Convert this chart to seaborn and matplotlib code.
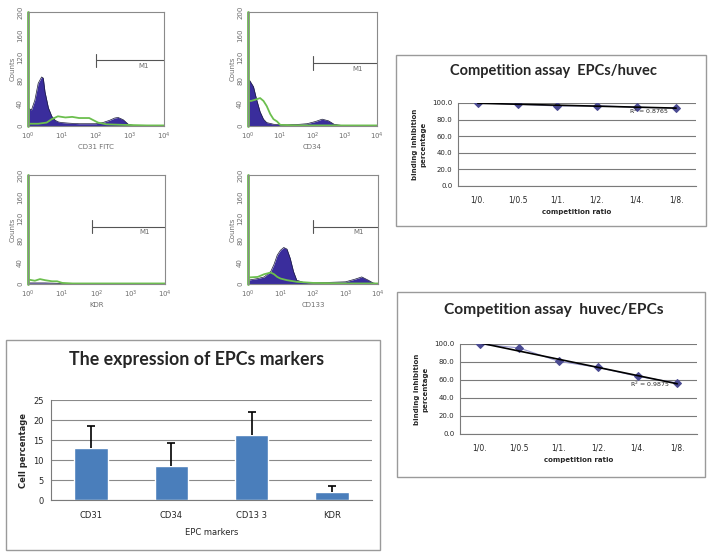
import numpy as np
import matplotlib
matplotlib.use("Agg")
import matplotlib.pyplot as plt
import seaborn as sns
from matplotlib.patches import Rectangle

# ---- flow cytometry histograms: log10 fluorescence position and counts ----
cd31_fill_logx = [0.0, 0.1, 0.2, 0.3, 0.4, 0.45, 0.5, 0.6, 0.7, 0.8, 0.9, 1.0, 1.2, 1.5,
                  1.8, 2.0, 2.2, 2.4, 2.55, 2.65, 2.8, 2.95, 3.1, 4.0]
cd31_fill = [32, 28, 45, 75, 86, 84, 60, 32, 17, 10, 7, 6, 5, 4, 4, 4, 6, 10, 14, 15, 11, 3, 1, 0]
cd31_line_logx = [0.02, 0.3, 0.55, 0.7, 0.88, 1.1, 1.3, 1.5, 1.8, 2.06, 2.3, 2.8, 3.5, 4.0]
cd31_line = [4, 4, 6, 12, 17, 15, 16, 14, 14, 6, 3, 2, 1, 1]

cd34_fill_logx = [0.0, 0.05, 0.17, 0.27, 0.375, 0.48, 0.58, 0.8, 1.2, 1.6, 1.83, 2.1,
                  2.3, 2.5, 2.67, 2.9, 4.0]
cd34_fill = [81, 80, 69, 46, 25, 12, 6, 3, 2, 3, 4, 8, 12, 9, 3, 1, 0]
cd34_line_logx = [0.02, 0.1, 0.22, 0.375, 0.48, 0.58, 0.69, 0.79, 0.9, 1.0, 1.5, 2.5, 4.0]
cd34_line = [44, 44, 46, 49, 44, 35, 21, 12, 8, 2, 1, 1, 1]

kdr_fill_logx = [0.0, 0.5, 1.0, 2.0, 4.0]
kdr_fill = [2, 2, 1, 1, 0]
kdr_line_logx = [0.02, 0.2, 0.35, 0.5, 0.7, 0.85, 1.0, 1.3, 2.0, 4.0]
kdr_line = [8, 6, 9, 7, 5, 5, 2, 1, 1, 1]

cd133_fill_logx = [0.0, 0.3, 0.5, 0.7, 0.8, 0.9, 1.0, 1.1, 1.2, 1.3, 1.4, 1.5, 1.7, 2.0,
                   2.5, 3.0, 3.3, 3.5, 3.7, 3.85, 4.0]
cd133_fill = [7, 10, 13, 23, 36, 53, 62, 67, 64, 47, 23, 7, 3, 2, 3, 4, 9, 13, 7, 2, 0]
cd133_line_logx = [0.02, 0.3, 0.5, 0.7, 0.8, 0.9, 1.0, 1.2, 1.5, 2.0, 3.0, 4.0]
cd133_line = [12, 13, 18, 21, 18, 13, 10, 7, 4, 2, 1, 1]

hist_labels = ["CD31 FITC", "CD34", "KDR", "CD133"]
m1_start_logx = [2.0, 2.0, 1.88, 2.0]
m1_level = [115, 110, 105, 105]

# ---- competition assays ----
ratios = ["1/0.", "1/0.5", "1/1.", "1/2.", "1/4.", "1/8."]
epc_huvec = [100.0, 98.6, 96.4, 96.8, 94.8, 94.0]
huvec_epc = [100.0, 95.6, 80.7, 74.0, 64.0, 56.7]
r2_labels = ["R$^2$ = 0.8765", "R$^2$ = 0.9875"]

# ---- marker expression ----
markers = ["CD31", "CD34", "CD13 3", "KDR"]
cell_pct = [13.1, 8.4, 16.3, 2.0]
cell_err = [5.4, 5.9, 5.7, 1.6]

W, H = 708, 553
sns.set_style("white")
fig = plt.figure(figsize=(W / 100, H / 100), dpi=100)


def rect(l, t, r, b):
    return [l / W, 1 - b / H, (r - l) / W, (b - t) / H]


def box(l, t, r, b):
    fig.add_artist(Rectangle((l / W, 1 - b / H), (r - l) / W, (b - t) / H,
                             transform=fig.transFigure, fill=False,
                             ec="#9a9a9a", lw=1.0))


# flow histograms
hist_rects = [(28, 12, 164, 126), (248, 12, 377, 126), (28, 175, 165, 284), (248, 175, 378, 284)]
fills = [(cd31_fill_logx, cd31_fill), (cd34_fill_logx, cd34_fill),
         (kdr_fill_logx, kdr_fill), (cd133_fill_logx, cd133_fill)]
lines = [(cd31_line_logx, cd31_line), (cd34_line_logx, cd34_line),
         (kdr_line_logx, kdr_line), (cd133_line_logx, cd133_line)]
purple = "#3a2d9c"
green = "#6cbf4e"
grey = "#6e6e6e"

for i in range(4):
    ax = fig.add_axes(rect(*hist_rects[i]))
    fx = 10 ** np.array(fills[i][0])
    ax.fill_between(fx, fills[i][1], color=purple, lw=0)
    sns.lineplot(x=fx, y=fills[i][1], ax=ax, color="#1a1a3a", lw=0.5)
    gx = 10 ** np.array(lines[i][0])
    sns.lineplot(x=gx, y=lines[i][1], ax=ax, color=green, lw=1.3)
    ax.axvline(1.0, color=green, lw=2.0, clip_on=False)
    ax.set_xscale("log")
    ax.set_xlim(1, 1e4)
    ax.set_ylim(0, 200)
    ax.set_xticks([1, 10, 100, 1000, 10000])
    ax.set_xticklabels(["10$^0$", "10$^1$", "10$^2$", "10$^3$", "10$^4$"])
    ax.set_yticks([0, 40, 80, 120, 160, 200])
    ax.set_yticklabels(["0", "40", "80", "120", "160", "200"], rotation=90, va="center")
    ax.tick_params(labelsize=5, colors=grey, length=2, width=0.6, pad=1.5)
    ax.tick_params(which="minor", length=1.2, width=0.4, colors=grey)
    for sp in ax.spines.values():
        sp.set_color("#8a8a8a")
        sp.set_linewidth(0.8)
    ax.set_xlabel(hist_labels[i], fontsize=5, color=grey, labelpad=1)
    ax.set_ylabel("Counts", fontsize=5, color=grey, labelpad=1)
    xs = 10 ** m1_start_logx[i]
    ax.plot([xs, 1e4], [m1_level[i], m1_level[i]], color="#555555", lw=0.8)
    ax.plot([xs, xs], [m1_level[i] - 12, m1_level[i] + 12], color="#555555", lw=0.8)
    ax.text(10 ** 3.25, m1_level[i] - 10, "M1", fontsize=5, color=grey, va="center")


# competition assay charts
def comp_chart(r, vals, title, title_xy, title_size, r2, r2_xy):
    ax = fig.add_axes(rect(*r))
    idx = np.arange(len(ratios))
    sns.lineplot(x=idx, y=vals, ax=ax, color="#9a9ad0", lw=0.8, marker="D",
                 markersize=4, markerfacecolor="#4b4b92", markeredgecolor="#4b4b92")
    sns.regplot(x=idx, y=vals, ax=ax, ci=None, scatter=False, truncate=True,
                line_kws=dict(color="black", lw=1.2))
    ax.set_xlim(-0.5, 5.5)
    ax.set_ylim(0, 100)
    ax.set_yticks([0, 20, 40, 60, 80, 100])
    ax.set_yticklabels(["0.0", "20.0", "40.0", "60.0", "80.0", "100.0"])
    ax.set_xticks(idx)
    ax.set_xticklabels(ratios)
    ax.set_xticks(np.arange(-0.5, 6, 1), minor=True)
    ax.yaxis.grid(True, color="#7a7a7a", lw=0.8)
    ax.set_axisbelow(True)
    ax.tick_params(axis="x", which="major", length=0, labelsize=5.5, pad=7)
    ax.tick_params(axis="x", which="minor", length=3, width=0.7, color="#7a7a7a")
    ax.tick_params(axis="y", labelsize=5, length=3, width=0.7, color="#7a7a7a", pad=1)
    for s in ["top", "right"]:
        ax.spines[s].set_visible(False)
    for s in ["left", "bottom"]:
        ax.spines[s].set_color("#7a7a7a")
        ax.spines[s].set_linewidth(0.8)
    ax.set_xlabel("competition ratio", fontsize=5, fontweight="bold", labelpad=3)
    ax.set_ylabel("binding inhibition\npercentage", fontsize=5, fontweight="bold",
                  labelpad=4, linespacing=1.6)
    ax.text(r2_xy[0], r2_xy[1], r2, fontsize=4.5, ha="center", va="center")
    fig.text(title_xy[0] / W, 1 - title_xy[1] / H, title, fontsize=title_size,
             fontweight="bold", family="Lato", ha="center", va="center")


box(396, 55, 706, 226)
comp_chart((458, 103, 696, 186), epc_huvec, "Competition assay  EPCs/huvec", (553, 71), 10.5,
           r2_labels[0], (4.3, 89.5))
box(397, 292, 705, 477)
comp_chart((460, 344, 697, 434), huvec_epc, "Competition assay  huvec/EPCs", (554, 310), 11.2,
           r2_labels[1], (4.3, 55))

# bar chart of marker expression
box(6, 340, 380, 550)
ax = fig.add_axes(rect(51, 400, 372, 500))
sns.barplot(x=markers, y=cell_pct, ax=ax, color="#4a7ebb", width=0.42, saturation=1)
eb = ax.errorbar(np.arange(len(markers)), cell_pct, yerr=[np.zeros(len(markers)), cell_err],
                 fmt="none", ecolor="black", elinewidth=1.2, capsize=3, capthick=1.2)
eb[1][0].set_visible(False)  # only the upper cap, like the original
ax.set_ylim(0, 25)
ax.set_yticks([0, 5, 10, 15, 20, 25])
ax.yaxis.grid(True, color="#8a8a8a", lw=0.8)
ax.set_axisbelow(True)
ax.tick_params(axis="x", length=0, labelsize=6, pad=8)
ax.tick_params(axis="y", labelsize=6, length=3, width=0.7, color="#7a7a7a", pad=2)
ax.set_xticks(np.arange(-0.5, 4, 1), minor=True)
ax.tick_params(axis="x", which="minor", length=3, width=0.7, color="#7a7a7a")
for s in ["top", "right"]:
    ax.spines[s].set_visible(False)
for s in ["left", "bottom"]:
    ax.spines[s].set_color("#7a7a7a")
    ax.spines[s].set_linewidth(0.8)
ax.set_xlabel("EPC markers", fontsize=6, labelpad=6)
ax.set_ylabel("Cell percentage", fontsize=6, fontweight="bold", labelpad=4)
fig.text(197 / W, 1 - 359 / H, "The expression of EPCs markers", fontsize=12.8,
         fontweight="bold", family="Lato", ha="center", va="center")

fig.savefig("out.png", dpi=100, facecolor="white")
